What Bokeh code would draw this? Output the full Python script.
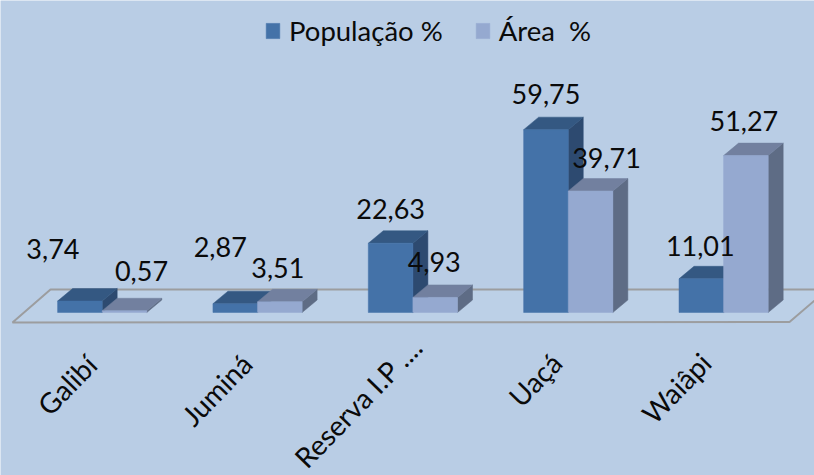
from bokeh.plotting import figure
from bokeh.models import ColumnDataSource, Legend, LegendItem
from bokeh.core.properties import value
from bokeh.embed import file_html
from bokeh.resources import INLINE

# ---- data ----
categories = ["Galibí", "Juminá", "Reserva I.P ....", "Uaçá", "Waiâpi"]
populacao = [3.74, 2.87, 22.63, 59.75, 11.01]
area = [0.57, 3.51, 4.93, 39.71, 51.27]
series_names = ["População %", "Área  %"]
pop_labels = ["3,74", "2,87", "22,63", "59,75", "11,01"]
area_labels = ["0,57", "3,51", "4,93", "39,71", "51,27"]

# ---- layout (pixels) ----
W, H = 814, 475
PX_CAT = 155.35
PX_VAL = 3.06
ORIGIN_X = 101.7
ORIGIN_Y = 312
BAR = 44.6 / PX_CAT
DX = 15 / PX_CAT
DY = 12.5 / PX_VAL
BG = "#b9cde5"

pop_offsets = [(-27, -52), (-15, -57), (0, -34), (0, -36), (-1, -33)]
area_offsets = [(17, -40), (-2, -34), (-1, -35), (16, -33), (-2, -35)]
cat_ends = [(-11, 47), (-11, 46), (4, 29), (-12, 45), (-18, 45)]

p = figure(width=W, height=H, output_backend="svg", toolbar_location=None,
           x_range=(-ORIGIN_X / PX_CAT, (W - ORIGIN_X) / PX_CAT),
           y_range=(-(H - ORIGIN_Y) / PX_VAL, ORIGIN_Y / PX_VAL),
           min_border=0, background_fill_color=BG, border_fill_color=BG,
           outline_line_color=None)
p.axis.visible = False
p.grid.visible = False

# floor
fx = [(12 - ORIGIN_X) / PX_CAT, (789 - ORIGIN_X) / PX_CAT, (827 - ORIGIN_X) / PX_CAT, (50 - ORIGIN_X) / PX_CAT]
fy = [-10 / PX_VAL, -9.5 / PX_VAL, 23 / PX_VAL, 23 / PX_VAL]
p.patch(fx, fy, fill_color="#bcd0e7", line_color="#9c9d9f", line_width=2)


def bar_faces(vals, left_shift):
    front = dict(xs=[], ys=[])
    top = dict(xs=[], ys=[])
    side = dict(xs=[], ys=[])
    for i, v in enumerate(vals):
        x0 = i + left_shift
        x1 = x0 + BAR
        front["xs"].append([x0, x1, x1, x0])
        front["ys"].append([0, 0, v, v])
        top["xs"].append([x0, x1, x1 + DX, x0 + DX])
        top["ys"].append([v, v, v + DY, v + DY])
        side["xs"].append([x1, x1 + DX, x1 + DX, x1])
        side["ys"].append([0, DY, v + DY, v])
    return front, top, side


styles = [("#4472a8", "#345882", "#2d4a70"), ("#95a9d0", "#72809f", "#5e6c85")]
legend_items = []
for k, (vals, shift) in enumerate([(populacao, -BAR), (area, 0)]):
    front, top, side = bar_faces(vals, shift)
    cf, ct, cs = styles[k]
    p.patches("xs", "ys", source=ColumnDataSource(side), fill_color=cs, line_color=cs, line_width=0.5)
    p.patches("xs", "ys", source=ColumnDataSource(top), fill_color=ct, line_color=ct, line_width=0.5)
    r = p.patches("xs", "ys", source=ColumnDataSource(front), fill_color=cf, line_color=cf, line_width=0.5)
    legend_items.append(LegendItem(label=series_names[k], renderers=[r]))

# value labels
for vals, shift, labels, offs in [(populacao, -BAR / 2, pop_labels, pop_offsets),
                                  (area, BAR / 2, area_labels, area_offsets)]:
    src = ColumnDataSource(dict(
        x=[i + shift for i in range(len(vals))], y=vals, t=labels,
        xo=[o[0] for o in offs], yo=[o[1] for o in offs]))
    p.text("x", "y", text="t", source=src, x_offset="xo", y_offset="yo",
           text_font=value("Lato"), text_font_size="27px", text_color="#0a0a0a",
           text_align="center", text_baseline="middle")

# category labels
src = ColumnDataSource(dict(
    x=list(range(len(categories))), y=[0] * len(categories), t=categories,
    xo=[c[0] for c in cat_ends], yo=[c[1] for c in cat_ends]))
p.text("x", "y", text="t", source=src, x_offset="xo", y_offset="yo", angle=0.8,
       text_font=value("Lato"), text_font_size="28px", text_color="#0a0a0a",
       text_align="right", text_baseline="middle")

legend = Legend(items=legend_items, orientation="horizontal", location=(264, 428),
                background_fill_alpha=0, border_line_color=None,
                glyph_width=17, glyph_height=19, label_standoff=8, spacing=31,
                padding=0, margin=0,
                label_text_font="Lato", label_text_font_size="27.5px", label_text_color="#0a0a0a")
p.add_layout(legend, "center")

open("out.html", "w").write(file_html(p, INLINE))
